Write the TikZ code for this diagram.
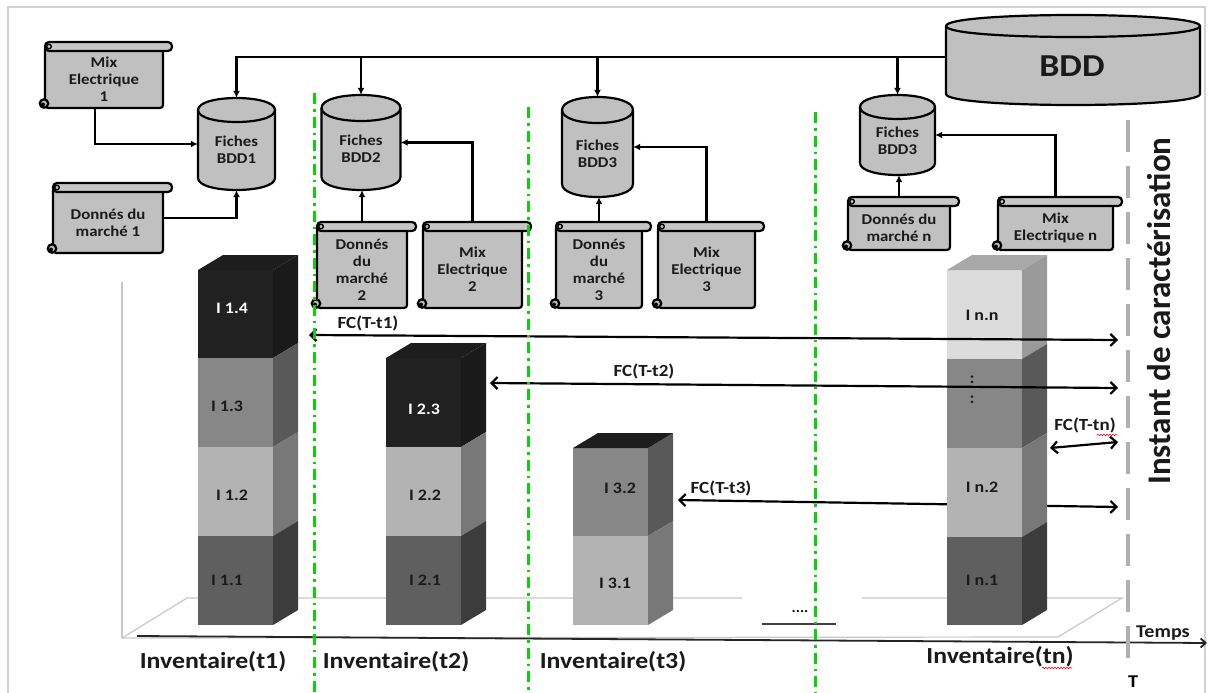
\documentclass[tikz,border=0pt]{standalone}
\usepackage{fontspec}
\setmainfont{Carlito}[FakeStretch=1.12]
\newfontfamily\rotfont{Carlito}
\usetikzlibrary{arrows.meta,decorations.pathmorphing}
\definecolor{boxgray}{HTML}{C0C0C0}
\definecolor{rollgray}{HTML}{C6C6C6}
\definecolor{greenl}{HTML}{12CC12}
\definecolor{tgray}{HTML}{B0B0B0}
\definecolor{floorgray}{HTML}{C8C8C8}
\definecolor{dkF}{HTML}{212121}\definecolor{dkS}{HTML}{1A1A1A}\definecolor{dkT}{HTML}{1D1D1D}
\definecolor{mdF}{HTML}{878787}\definecolor{mdS}{HTML}{595959}
\definecolor{ltF}{HTML}{B3B3B3}\definecolor{ltS}{HTML}{787878}
\definecolor{dgF}{HTML}{5F5F5F}\definecolor{dgS}{HTML}{3C3C3C}
\definecolor{vlF}{HTML}{DCDCDC}\definecolor{vlS}{HTML}{9A9A9A}\definecolor{vlT}{HTML}{A8A8A8}
\definecolor{labdark}{HTML}{1A1A1A}

\newcommand\mycyl[7]{% name, cx, ytop, ybot, halfwidth, ry, text
  \pgfmathsetmacro\myxa{#2-#5}\pgfmathsetmacro\myxb{#2+#5}%
  \pgfmathsetmacro\myyt{#3+#6}\pgfmathsetmacro\myyb{#4-#6}%
  \pgfmathsetmacro\mycyt{\myyt-1.333*#6}\pgfmathsetmacro\mycyb{\myyb+1.333*#6}%
  \pgfmathsetmacro\mycytf{\myyt+1.333*#6}%
  \filldraw[shapeline, fill=boxgray] (\myxa,\myyt) -- (\myxa,\myyb) .. controls (\myxa,\mycyb) and (\myxb,\mycyb) .. (\myxb,\myyb) -- (\myxb,\myyt) .. controls (\myxb,\mycyt) and (\myxa,\mycyt) .. (\myxa,\myyt) -- cycle;
  \draw[shapeline] (\myxa,\myyt) .. controls (\myxa,\mycytf) and (\myxb,\mycytf) .. (\myxb,\myyt);
  \pgfmathsetmacro\myym{(#3+#4)/2}\pgfmathsetmacro\mywd{2*#5}\pgfmathsetmacro\myht{#4-#3}%
  \pgfmathsetmacro\myyq{(#3+#4)/2+#6/2}%
  \node[inner sep=0, minimum width=\mywd pt, minimum height=\myht pt] (#1) at (#2,\myym) {};
  \node[boxtext] (#1t) at (#2,\myyq) {#7};
}
\newcommand\myscroll[6]{% name, xL, xR, yT, yB, text
  \pgfmathsetmacro\mysxc{(#2+#3)/2}\pgfmathsetmacro\mysyc{(#4+#5)/2}%
  \pgfmathsetmacro\mysyt{(#4+9+#5)/2}%
  \pgfmathsetmacro\myswd{#3-#2}\pgfmathsetmacro\mysht{#5-#4}%
  \filldraw[shapeline, fill=boxgray, rounded corners=3pt] (#2,#4+4) -- (#2,#5) -- (#3,#5) -- (#3,#4+4) -- cycle;
  \filldraw[shapeline, fill=rollgray, rounded corners=4pt] (#2,#4) rectangle (#3+9,#4+9);
  \draw[line width=1.4pt] (#2+4,#4+4.5) circle[radius=2.3pt];
  \filldraw[shapeline, fill=boxgray] (#2-1,#5-4.5) circle[radius=4.2pt];
  \fill (#2-2,#5-3.5) circle[radius=2pt];
  \node[inner sep=0, minimum width=\myswd pt, minimum height=\mysht pt] (#1) at (\mysxc,\mysyc) {};
  \node[boxtext] (#1t) at (\mysxc,\mysyt) {#6};
}
\newcommand\myseg[5]{% x0, ytop, ybot, front, side
  \fill[#4] (#1,#2) rectangle (#1+75,#3);
  \fill[#5] (#1+75,#2) -- (#1+100,#2-15) -- (#1+100,#3-15) -- (#1+75,#3) -- cycle;
}
\newcommand\mytop[3]{\fill[#3] (#1,#2) -- (#1+25,#2-15) -- (#1+100,#2-15) -- (#1+75,#2) -- cycle;}

\begin{document}
\begin{tikzpicture}[x=1pt,y=-1pt,
  shapeline/.style={line width=2.2pt, draw=black},
  boxtext/.style={align=center, inner sep=0, font=\fontsize{15}{17}\selectfont\bfseries, text=labdark},
  conn/.style={line width=2.2pt, -{Latex[length=7pt,width=7pt]}},
  fcarrow/.style={line width=2.2pt, {Straight Barb[length=6pt,width=12pt]}-{Straight Barb[length=6pt,width=12pt]}},
  fclab/.style={font=\fontsize{17}{19}\selectfont\bfseries, inner sep=0, text=labdark},
  barlab/.style={font=\fontsize{16}{18}\selectfont\bfseries, inner sep=0, text=labdark},
  invlab/.style={font=\fontsize{23}{25}\selectfont\bfseries, inner sep=0, text=labdark},
  greenline/.style={draw=greenl, line width=3pt, dash pattern=on 11pt off 5pt on 2.5pt off 5pt},
  floorline/.style={draw=floorgray, line width=1.2pt}]
\useasboundingbox (0,0) rectangle (1210,693);
\fill[white] (0,0) rectangle (1210,693);
% frame
\draw[draw=black!18, line width=1.5pt] (8,693) -- (8,7) -- (1205,7) -- (1205,693);

% floor
\draw[floorline] (122,282) -- (122,638);
\draw[floorline] (122,638) -- (187,598) -- (742,598);
\draw[floorline] (862,598) -- (1122,598) -- (1058,637) -- (122,638);
\node[font=\fontsize{14}{16}\selectfont\bfseries, inner sep=0] (dots) at (800,612) {....};
\draw[line width=1.5pt, black!75] (762,624) -- (836,624);

% time axis
\coordinate (ax0) at (137,636);
\coordinate (ax1) at (1207,643);
\draw[line width=1.8pt, black!85, -{Straight Barb[length=5pt,width=9pt]}] (ax0) -- (ax1);

% characterisation instant line
\coordinate (T0) at (1128,120);
\coordinate (T1) at (1128,665);
\draw[draw=tgray, line width=4pt, dash pattern=on 32pt off 14pt] (T0) -- (T1);

% bar 1
\myseg{198}{270}{358}{dkF}{dkS}
\myseg{198}{358}{447}{mdF}{mdS}
\myseg{198}{447}{536}{ltF}{ltS}
\myseg{198}{536}{625}{dgF}{dgS}
\mytop{198}{270}{dkT}
% bar 2
\myseg{386}{358}{447}{dkF}{dkS}
\myseg{386}{447}{536}{ltF}{ltS}
\myseg{386}{536}{625}{dgF}{dgS}
\mytop{386}{358}{dkT}
% bar 3
\myseg{573}{448}{536}{mdF}{mdS}
\myseg{573}{536}{625}{ltF}{ltS}
\mytop{573}{448}{dkT}

% FC(T-t3) behind bar n
\coordinate (a3s) at (678,500);
\coordinate (a3e) at (1118,507);
\draw[fcarrow] (a3s) -- (a3e);

% bar n
\myseg{947}{270}{359}{vlF}{vlS}
\myseg{947}{359}{448}{mdF}{mdS}
\myseg{947}{448}{537}{ltF}{ltS}
\myseg{947}{537}{625}{dgF}{dgS}
\mytop{947}{270}{vlT}

% FC arrows over bars
\coordinate (a1s) at (309,335);
\coordinate (a1e) at (1118,340);
\draw[fcarrow] (a1s) -- (a1e);
\coordinate (a2s) at (490,383);
\coordinate (a2e) at (1118,388);
\draw[fcarrow] (a2s) -- (a2e);
\coordinate (ans) at (1050,448);
\coordinate (ane) at (1118,442);
\draw[fcarrow] (ans) -- (ane);

% BDD
\mycyl{bdd}{1073}{15}{105}{127}{11}{}
\node[font=\fontsize{32}{34}\selectfont\bfseries, text=labdark] (bddt) at (1072,66) {BDD};

% fiches cylinders
\mycyl{c1}{236.5}{98}{190}{38.5}{12}{Fiches\\BDD1}
\mycyl{c2}{361}{95}{190}{39.5}{13}{Fiches\\BDD2}
\mycyl{c3}{597.5}{97}{197}{35.5}{13}{Fiches\\BDD3}
\mycyl{cn}{897.5}{95}{175}{37.5}{12}{Fiches\\BDD3}

% scrolls
\myscroll{m1}{45}{163}{42}{108}{Mix\\Electrique\\1}
\myscroll{d1}{53}{163}{183}{253}{Donnés du\\marché 1}
\myscroll{d2}{317}{407}{222}{308}{Donnés\\du\\marché\\2}
\myscroll{m2}{423}{522}{222}{308}{Mix\\Electrique\\2}
\myscroll{d3}{556}{642}{222}{308}{Donnés\\du\\marché\\3}
\myscroll{m3}{658}{755}{222}{308}{Mix\\Electrique\\3}
\myscroll{dn}{848}{950}{197}{250}{Donnés du\\marché n}
\myscroll{mn}{998}{1113}{197}{250}{Mix\\Electrique n}

% connectors
\coordinate (bus) at (946,57);
\draw[conn] (bus) -| (c1.north);
\draw[conn] (bus -| c2.north) -- (c2.north);
\draw[conn] (bus -| c3.north) -- (c3.north);
\draw[conn] (bus -| cn.north) -- (cn.north);
\draw[conn] ([xshift=-9pt]m1.south) |- (c1.west);
\draw[conn] (d1.east) -| (c1.south);
\draw[conn] (d2.north) -- (d2.north |- c2.south);
\draw[conn] (m2.north) |- (c2.east);
\draw[conn] (d3.north) -- (d3.north |- c3.south);
\draw[conn] (m3.north) |- (c3.east);
\draw[conn] (dn.north) -- (dn.north |- cn.south);
\draw[conn] (mn.north) |- (cn.east);

% green separators
\coordinate (g1a) at (314,93);  \coordinate (g1b) at (314,693);
\coordinate (g2a) at (528,107); \coordinate (g2b) at (528,693);
\coordinate (g3a) at (815,112); \coordinate (g3b) at (815,693);
\draw[greenline] (g1a) -- (g1b);
\draw[greenline] (g2a) -- (g2b);
\draw[greenline] (g3a) -- (g3b);

% bar labels
\node[barlab, text=white] (l14) at (232,308) {I 1.4};
\node[barlab] (l13) at (227,406) {I 1.3};
\node[barlab] (l12) at (232,495) {I 1.2};
\node[barlab] (l11) at (227,580) {I 1.1};
\node[barlab, text=white] (l23) at (424,409) {I 2.3};
\node[barlab] (l22) at (425,495) {I 2.2};
\node[barlab] (l21) at (425,580) {I 2.1};
\node[barlab] (l32) at (620,488) {I 3.2};
\node[barlab] (l31) at (615,583) {I 3.1};
\node[barlab] (lnn) at (982,315) {I n.n};
\node[barlab] (lnd1) at (972,380) {:};
\node[barlab] (lnd2) at (972,400) {:};
\node[barlab] (ln2) at (982,487) {I n.2};
\node[barlab] (ln1) at (982,580) {I n.1};

% FC labels
\node[fclab] (f1) at (368,323) {FC(T-t1)};
\node[fclab] (f2) at (644,371) {FC(T-t2)};
\node[fclab] (f3) at (721,488) {FC(T-t3)};
\node[fclab] (fn) at (1085,425) {FC(T-tn)};
\draw[red, line width=0.6pt, decorate, decoration={snake,amplitude=0.8pt,segment length=3pt}] (1097,435) -- (1117,435);

% inventory labels
\node[invlab] (i1) at (213,662) {Inventaire(t1)};
\node[invlab] (i2) at (396,662) {Inventaire(t2)};
\node[invlab] (i3) at (613,662) {Inventaire(t3)};
\node[invlab] (in) at (1000,657) {Inventaire(tn)};
\draw[red, line width=0.6pt, decorate, decoration={snake,amplitude=0.8pt,segment length=3pt}] (1042,668) -- (1072,668);

% axis texts
\node[font=\fontsize{18}{20}\selectfont\bfseries, inner sep=0, text=labdark] (temps) at (1163,633) {Temps};
\node[font=\fontsize{18}{20}\selectfont\bfseries, inner sep=0] (tT) at (1133,682) {T};
\node[font=\rotfont\fontsize{33}{35}\selectfont\bfseries, rotate=90, inner sep=0, text=labdark] (inst) at (1159,311) {Instant de caractérisation};
\end{tikzpicture}
\end{document}
